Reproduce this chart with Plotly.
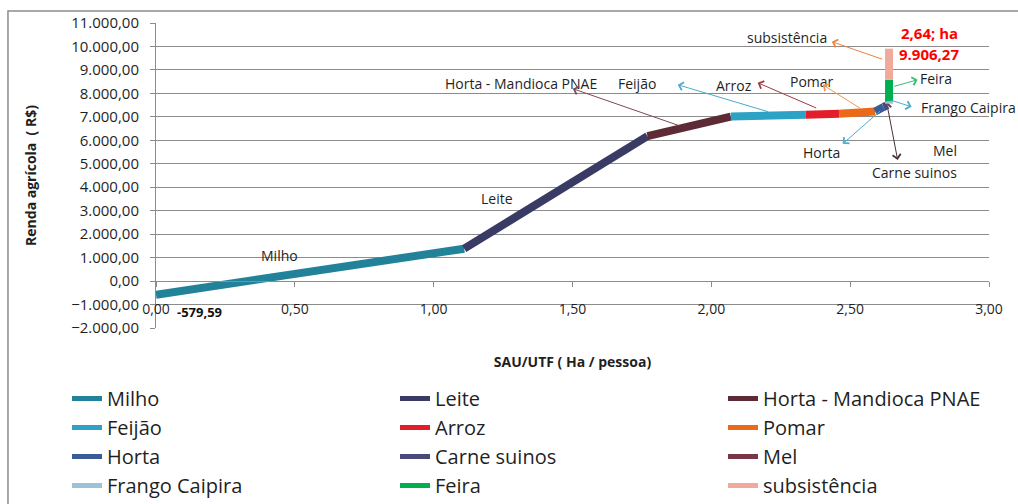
import plotly.graph_objects as go

# Segments of the agricultural income curve, in order along the path
segmentos = ["Milho", "Leite", "Horta - Mandioca PNAE", "Feijão", "Arroz", "Pomar",
             "Horta", "Carne suinos", "Mel", "Frango Caipira", "Feira", "subsistência"]

# Break points shared by consecutive segments (SAU/UTF in ha/pessoa, renda in R$)
sau_utf = [0.00, 1.11, 1.77, 2.07, 2.34, 2.46, 2.59, 2.62, 2.635, 2.64, 2.64, 2.64, 2.64]
renda = [-579.59, 1380, 6180, 7010, 7090, 7130, 7230, 7420, 7500, 7560, 7660, 8580, 9906.27]

cores = ["#21829A", "#393B64", "#5C2B35", "#2DA2C4", "#E31E2A", "#EB6A1A",
         "#395C99", "#4A4A78", "#783646", "#9DC2D6", "#00AF50", "#F0A99A"]

x_ticks = [0, 0.5, 1.0, 1.5, 2.0, 2.5, 3.0]
y_ticks = list(range(-2000, 11001, 1000))

FONT = "Open Sans"
TXT = "#1f1f1f"
GRID = "#8c8c8c"


def br(v, dec=2):
    """Brazilian number format: 9906.27 -> 9.906,27"""
    s = f"{v:,.{dec}f}"
    return s.replace(",", "X").replace(".", ",").replace("X", ".")


fig = go.Figure()
for i, nome in enumerate(segmentos):
    # the curve segment itself
    fig.add_trace(go.Scatter(
        x=sau_utf[i:i + 2], y=renda[i:i + 2], mode="lines", name=nome,
        legendgroup=nome, showlegend=False,
        line=dict(color=cores[i], width=8), hoverinfo="skip"))
    # thinner key line for the legend
    fig.add_trace(go.Scatter(
        x=[None], y=[None], mode="lines", name=nome, legendgroup=nome,
        line=dict(color=cores[i], width=5), hoverinfo="skip"))

# Text labels placed next to the curve
rotulos = [
    ("Milho", 0.443, 1106), ("Leite", 1.228, 3541),
    ("Horta - Mandioca PNAE", 1.314, 8411), ("Feijão", 1.731, 8411),
    ("Arroz", 2.081, 8326), ("Pomar", 2.362, 8497),
    ("subsistência", 2.271, 10376), ("Feira", 2.808, 8624),
    ("Frango Caipira", 2.927, 7386), ("Horta", 2.397, 5463),
    ("Mel", 2.840, 5549), ("Carne suinos", 2.732, 4609),
]
for txt, x, y in rotulos:
    fig.add_annotation(x=x, y=y, text=txt, showarrow=False,
                       font=dict(family=FONT, size=14, color=TXT))

# Callout arrows: (tail on the curve) -> (head near the label)
setas = [
    ((1.89, 6600), (1.501, 8200), "#7B4A55"),
    ((2.21, 7200), (1.879, 8368), "#4BACC6"),
    ((2.383, 7350), (2.167, 8453), "#9B3A42"),
    ((2.541, 7330), (2.401, 8368), "#F79646"),
    ((2.613, 7300), (2.473, 5848), "#4BACC6"),
    ((2.635, 7386), (2.671, 5164), "#4A3034"),
    ((2.642, 7728), (2.721, 7429), "#4BACC6"),
    ((2.653, 8283), (2.743, 8582), "#3DB87A"),
    ((2.621, 9435), (2.434, 10204), "#F07F3C"),
]
for (tx, ty), (hx, hy), c in setas:
    fig.add_annotation(x=hx, y=hy, ax=tx, ay=ty, axref="x", ayref="y",
                       text="", showarrow=True, arrowhead=4, arrowsize=1.6,
                       arrowwidth=1, arrowcolor=c)

# Value labels for the first and the last point
fig.add_annotation(x=sau_utf[0], y=renda[0], text=br(renda[0]), showarrow=False,
                   xshift=43, yshift=-17,
                   font=dict(family=FONT, size=13, color="#111111", weight="bold"))
fig.add_annotation(x=sau_utf[-1], y=renda[-1], text=f"{br(sau_utf[-1])}; ha",
                   showarrow=False, xshift=40, yshift=16,
                   font=dict(family=FONT, size=15, color="#FF0000", weight="bold"))
fig.add_annotation(x=sau_utf[-1], y=renda[-1], text=br(renda[-1]),
                   showarrow=False, xshift=40, yshift=-5,
                   font=dict(family=FONT, size=15, color="#FF0000", weight="bold"))

# Outer chart frame
fig.add_shape(type="rect", xref="paper", yref="paper",
              x0=-0.1777, x1=1.08, y0=-1.2, y1=1.0393,
              line=dict(color="#8c8c8c", width=1.5), fillcolor="rgba(0,0,0,0)",
              layer="below")

fig.update_layout(
    width=1018, height=504,
    margin=dict(l=156, r=29, t=23, b=176, autoexpand=False),
    paper_bgcolor="white", plot_bgcolor="white",
    separators=",.",
    font=dict(family=FONT, color=TXT),
    showlegend=True,
    legend=dict(orientation="h", x=(67 - 156) / 833, y=(328 - 379) / 305,
                xanchor="left", yanchor="top",
                entrywidth=283, entrywidthmode="pixels", traceorder="normal",
                font=dict(family=FONT, size=20, color=TXT), bgcolor="rgba(0,0,0,0)"),
    xaxis=dict(range=[0, 3], tickvals=x_ticks, tickformat=".2f",
               anchor="free", position=2000 / 13000,
               showline=True, linecolor=GRID, linewidth=1,
               ticks="outside", ticklen=5, tickcolor=GRID,
               ticklabelstandoff=10,
               showgrid=False, zeroline=False,
               tickfont=dict(family=FONT, size=14, color=TXT),
               title=dict(text="SAU/UTF ( Ha / pessoa)", standoff=40,
                          font=dict(family=FONT, size=14, color=TXT, weight="bold"))),
    yaxis=dict(range=[-2000, 11000], tickvals=y_ticks, tickformat=",.2f",
               showline=True, linecolor=GRID, linewidth=1,
               ticks="outside", ticklen=5, tickcolor=GRID,
               ticklabelstandoff=8,
               showgrid=True, gridcolor=GRID, gridwidth=1, zeroline=False,
               tickfont=dict(family=FONT, size=15, color=TXT),
               title=dict(text="Renda agrícola  ( R$)", standoff=31,
                          font=dict(family=FONT, size=14, color=TXT, weight="bold"))),
)

fig.write_html("out.html")
